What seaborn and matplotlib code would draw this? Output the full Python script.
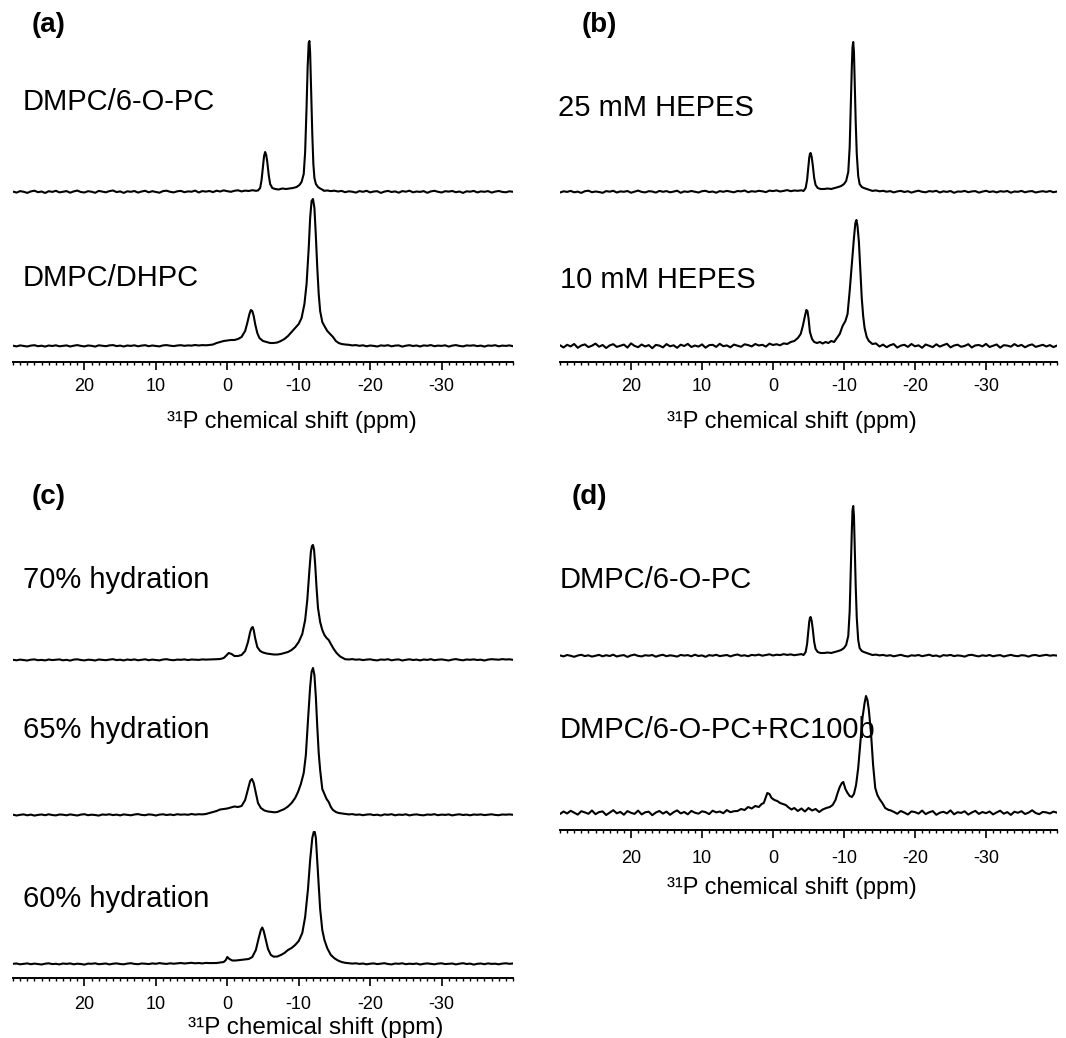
import numpy as np
import matplotlib
matplotlib.use("Agg")
import matplotlib.pyplot as plt
import seaborn as sns
from matplotlib.ticker import MultipleLocator

# ---------------------------------------------------------------------------
# 31P spectra.  Each trace: baseline samples on a 0.5 ppm grid from 30 ppm
# downfield (LEFT) and ending at -40 ppm upfield (RIGHT), plus a finely
# sampled peak region (PPM / VAL).  Intensities in arbitrary units.
# ---------------------------------------------------------------------------

# (a) DMPC/6-O-PC
A1_LEFT = [0.4, -0.6, 0.9, 0.2, -0.9, 0.6, 1.3, -0.2, 0.5, -1.0, 0.8, 0.1, 1.2, -0.4, 0.3, 0.9, -0.7, 0.6, 1.4, 0.0,
           -0.5, 0.8, 0.3, -0.8, 1.1, 0.4, -0.3, 0.9, 1.5, -0.1, 0.6, -0.9, 0.7, 0.2, 1.0, -0.6, 0.5, 1.2, -0.3, 0.8,
           0.1, -0.7, 0.9, 1.3, 0.2, -0.4, 0.7, 1.1, -0.2, 0.6, 0.3, 1.4, -0.5, 0.9, 0.4, 1.0, -0.1, 1.3, 0.5, 1.6,
           0.8, 0.2, 1.2, 1.7, 0.6, 1.4, 1.0, 1.8, 1.2, 1.5]
A1_PPM = [-4.3, -4.6, -4.8, -5.0, -5.15, -5.3, -5.45, -5.6, -5.8, -6.0, -6.3, -6.7, -7.2, -7.7, -8.2, -8.7, -9.2,
          -9.7, -10.1, -10.4, -10.7, -10.9, -11.1, -11.25, -11.4, -11.5, -11.6, -11.75, -11.9, -12.05, -12.2, -12.4,
          -12.7, -13.0, -13.4]
A1_VAL = [1.5, 4, 12, 26, 36, 40, 37, 30, 17, 8, 4, 3, 2.5, 3.5, 3, 3.5, 4, 5, 7, 10, 18, 40, 85, 125, 149, 151,
          139, 100, 58, 28, 14, 8, 5, 3.5, 2]
A1_RIGHT = [1.8, 1.2, 1.5, 0.9, 1.3, 0.5, 1.1, -0.2, 0.7, 0.3, -0.6, 0.9, 0.2, 1.2, -0.4, 0.5, 0.8, -0.9, 0.4, 1.1,
            0.0, 0.6, -0.7, 0.9, 0.3, 1.3, -0.3, 0.5, 0.1, 0.9, -0.8, 0.6, 1.2, 0.2, -0.5, 0.8, 0.4, 1.0, -0.2, 0.5,
            -0.9, 0.7, 0.3, 1.1, -0.4, 0.6, 0.2, 0.9, -0.6, 0.4, 1.0, 0.1, -0.3, 0.7, 0.2]

# (a) DMPC/DHPC
A2_LEFT = [0.3, -0.4, 0.6, 0.1, -0.5, 0.4, 0.8, -0.2, 0.3, -0.6, 0.5, 0.0, 0.7, -0.3, 0.2, 0.6, -0.5, 0.3, 0.9, 0.1,
           -0.4, 0.5, 0.2, -0.6, 0.7, 0.3, -0.2, 0.6, 0.9, -0.1, 0.4, -0.5, 0.5, 0.1, 0.7, -0.3, 0.4, 0.8, -0.2, 0.5,
           0.1, -0.4, 0.6, 0.9, 0.3, -0.1, 0.5, 0.8, 0.2, 0.6, 0.4, 1.0, 0.5, 0.9, 0.7, 1.1]
A2_PPM = [2.5, 2.0, 1.5, 1.0, 0.5, 0.0, -0.5, -1.0, -1.5, -2.0, -2.5, -2.8, -3.1, -3.3, -3.5, -3.7, -3.9, -4.2, -4.5,
          -5.0, -5.5, -6.0, -6.5, -7.0, -7.5, -8.0, -8.5, -9.0, -9.5, -10.0, -10.4, -10.8, -11.1, -11.4, -11.6, -11.8,
          -12.0, -12.2, -12.4, -12.6, -12.8, -13.0, -13.3, -13.6, -14.0, -14.4, -14.8, -15.2, -15.6, -16.0]
A2_VAL = [1, 1.5, 3, 4, 5, 5.5, 6, 6, 7, 9, 15, 23, 32, 36, 35, 30, 22, 13, 8, 5, 4, 3, 3, 3.5, 5, 7, 10, 14, 18, 22,
          28, 42, 62, 98, 128, 145, 147, 138, 110, 78, 52, 35, 24, 20, 15, 12, 9, 5, 3, 2]
A2_RIGHT = [2.0, 1.5, 1.2, 0.6, 0.9, 0.2, 0.7, -0.3, 0.5, 0.1, -0.5, 0.6, 0.2, 0.8, -0.3, 0.4, 0.6, -0.6, 0.3, 0.8,
            0.0, 0.5, -0.5, 0.6, 0.2, 0.9, -0.2, 0.4, 0.1, 0.7, -0.6, 0.4, 0.9, 0.1, -0.4, 0.6, 0.3, 0.7, -0.1, 0.4,
            -0.6, 0.5, 0.2, 0.8, -0.3, 0.4, 0.1, 0.6, -0.2]

# (b) 25 mM HEPES
B1_LEFT = [-0.5, 0.7, 0.1, 1.1, -0.3, 0.4, -0.9, 0.8, 1.3, -0.2, 0.5, 0.0, -0.8, 0.9, 0.3, 1.2, -0.5, 0.6, 0.2, 1.0,
           -0.7, 0.4, 1.4, 0.1, -0.4, 0.8, 0.5, -0.6, 1.1, 0.2, 0.9, -0.3, 0.4, 1.3, -0.8, 0.6, 0.1, 1.0, 0.3, -0.5,
           0.8, 1.2, -0.1, 0.5, -0.7, 0.9, 0.2, 1.1, 0.4, -0.3, 1.0, 0.6, 1.5, -0.2, 0.8, 0.3, 1.2, 0.7, -0.1, 1.4,
           0.9, 1.6, 0.5, 1.1, 1.9, 0.8, 1.5, 1.2, 1.7, 1.0]
B1_PPM = [-4.3, -4.6, -4.8, -5.0, -5.1, -5.2, -5.3, -5.45, -5.6, -5.8, -6.0, -6.3, -6.7, -7.2, -7.7, -8.2, -8.7, -9.2,
          -9.6, -10.0, -10.3, -10.6, -10.8, -10.95, -11.1, -11.2, -11.3, -11.4, -11.5, -11.65, -11.8, -12.0, -12.2,
          -12.5, -12.8, -13.2, -13.6]
B1_VAL = [1, 4, 12, 26, 34, 38, 39, 35, 27, 14, 7, 4, 3, 3, 3.5, 3, 4, 5, 6, 8, 11, 20, 45, 85, 125, 145, 150, 140,
          112, 70, 38, 16, 8, 5, 4, 3, 2]
B1_RIGHT = [2.0, 1.4, 1.1, 1.6, 0.7, 1.2, 0.3, 0.9, -0.4, 0.6, 1.1, 0.0, 0.8, -0.6, 0.5, 1.3, 0.2, -0.3, 0.9, 0.4,
            1.2, -0.5, 0.7, 0.1, 1.0, -0.8, 0.5, 0.3, 1.1, -0.2, 0.6, 0.9, -0.6, 0.4, 1.2, 0.0, 0.7, -0.4, 0.8, 0.3,
            1.0, -0.7, 0.5, 0.2, 1.1, -0.3, 0.6, 0.9, -0.5, 0.3, 0.8, 0.1, 1.0, -0.2, 0.5]

# (b) 10 mM HEPES
B2_LEFT = [0.8, -1.5, 1.2, -0.4, 2.0, -1.8, 0.5, 1.6, -1.1, 0.3, 2.4, -0.7, 1.0, -2.0, 0.6, 1.8, -0.9, 0.2, 1.4, -1.6,
           2.6, 0.1, -1.2, 1.5, -0.5, 0.9, -2.2, 1.1, 0.4, -1.4, 1.9, -0.3, 0.7, -1.8, 1.3, 0.0, 2.1, -1.0, 0.5, -0.6,
           1.6, -1.7, 0.8, 1.2, -0.9, 2.2, -0.2, 0.6, -1.3, 1.4, 0.3, -0.8, 1.7, 0.9, -0.4, 2.0, 0.5, 1.2, -0.6, 2.4,
           1.0, 1.8, 0.7, 2.6, 2.0]
B2_PPM = [-2.0, -2.5, -3.0, -3.5, -3.9, -4.2, -4.5, -4.7, -4.85, -5.0, -5.2, -5.5, -5.8, -6.2, -6.6, -7.0, -7.4, -7.8,
          -8.2, -8.6, -9.0, -9.4, -9.8, -10.2, -10.5, -10.8, -11.1, -11.4, -11.6, -11.75, -11.9, -12.1, -12.3, -12.5,
          -12.7, -12.9, -13.2, -13.5, -14.0]
B2_VAL = [2, 4, 5, 8, 12, 20, 30, 36, 35, 28, 14, 7, 4, 3, 4, 2.5, 4, 3, 5, 4, 8, 12, 20, 25, 32, 55, 82, 108, 123,
          126, 120, 104, 76, 48, 30, 18, 9, 5, 2]
B2_RIGHT = [2.5, 1.8, 2.6, -0.5, 1.4, -1.2, 0.8, 1.9, -1.6, 0.4, 1.2, -0.9, 2.0, -0.3, 0.7, -1.8, 1.5, 0.2, -1.1, 1.7,
            -0.6, 0.9, 2.2, -1.4, 0.5, 1.3, -0.8, 0.1, 1.8, -1.5, 0.6, 1.0, -0.4, 2.1, -1.0, 0.3, 1.5, -1.7, 0.8, 0.4,
            -0.7, 1.9, -0.2, 1.1, -1.3, 0.6, 1.6, -0.9, 0.2, 1.2, -0.5, 0.9, -1.1, 0.5]

# (c) 70% hydration
C1_LEFT = [0.2, -0.3, 0.4, 0.0, -0.5, 0.3, 0.6, -0.2, 0.1, -0.4, 0.5, -0.1, 0.3, 0.6, -0.3, 0.2, -0.6, 0.4, 0.7, 0.0,
           -0.4, 0.3, 0.1, -0.5, 0.5, 0.2, -0.2, 0.4, 0.8, -0.1, 0.3, -0.4, 0.5, 0.0, 0.6, -0.3, 0.2, 0.7, -0.2, 0.4,
           0.0, -0.4, 0.5, 0.8, 0.1, -0.2, 0.4, 0.2, 0.6, -0.1, 0.5, 0.3, 0.1, 0.6, 0.4, 0.5, 0.3]
C1_PPM = [2.0, 1.5, 1.0, 0.5, 0.2, -0.2, -0.6, -1.0, -1.5, -2.0, -2.5, -2.9, -3.2, -3.4, -3.55, -3.7, -3.9, -4.2,
          -4.6, -5.0, -5.5, -6.0, -6.5, -7.0, -7.5, -8.0, -8.5, -9.0, -9.5, -10.0, -10.5, -10.9, -11.2, -11.5, -11.7,
          -11.85, -12.0, -12.15, -12.3, -12.5, -12.7, -13.0, -13.3, -13.6, -13.9, -14.2, -14.5, -14.9, -15.3, -15.8,
          -16.3]
C1_VAL = [0.5, 0.8, 1, 2, 4, 7, 6, 4, 4, 5, 9, 18, 28, 32, 33, 30, 22, 13, 9, 7.5, 6.5, 6, 5.5, 5.5, 6, 7, 8, 10, 13,
          18, 26, 40, 60, 90, 108, 114, 115, 110, 96, 72, 52, 38, 30, 25, 22, 20, 16, 11, 7, 3.5, 1.5]
C1_RIGHT = [1.2, 0.8, 0.5, 0.9, 0.3, 0.6, -0.1, 0.4, 0.7, 0.0, -0.4, 0.5, 0.2, 0.8, -0.3, 0.3, 0.6, -0.5, 0.2, 0.7,
            0.0, 0.4, -0.4, 0.5, 0.1, 0.8, -0.2, 0.3, 0.6, 0.1, -0.5, 0.4, 0.9, 0.2, -0.3, 0.5, 0.2, 0.6, 0.0, 0.3,
            -0.5, 0.4, 0.8, 0.6, 0.3, 0.9, 0.5, 0.7, 0.2]

# (c) 65% hydration
C2_LEFT = [0.3, -0.5, 0.2, 0.6, -0.3, 0.4, -0.6, 0.1, 0.5, -0.2, 0.7, 0.0, -0.4, 0.5, 0.3, -0.3, 0.6, 0.1, -0.5, 0.4,
           0.8, -0.2, 0.3, 0.0, -0.6, 0.5, 0.2, 0.7, -0.1, 0.4, -0.4, 0.6, 0.2, -0.3, 0.5, 0.9, 0.1, -0.2, 0.6, 0.3,
           -0.5, 0.4, 0.7, 0.0, 0.5, -0.1, 0.8, 0.3, 0.6, 0.2, 1.0, 0.4, 0.8, 0.6, 0.9, 1.0]
C2_PPM = [3.0, 2.5, 2.0, 1.5, 1.0, 0.5, 0.0, -0.5, -1.0, -1.5, -2.0, -2.5, -2.9, -3.2, -3.45, -3.7, -4.0, -4.3, -4.7,
          -5.2, -5.7, -6.2, -6.6, -7.0, -7.5, -8.0, -8.5, -9.0, -9.5, -9.9, -10.3, -10.7, -11.0, -11.3, -11.6, -11.8,
          -12.0, -12.2, -12.4, -12.6, -12.8, -13.0, -13.3, -13.6, -13.9, -14.2, -14.5, -14.8, -15.2, -15.6]
C2_VAL = [1, 2, 3, 4, 5.5, 6, 6.5, 7.5, 8.5, 8, 9, 15, 26, 34, 36, 32, 22, 12, 7, 4.5, 3.5, 3, 2.7, 3, 4.5, 6, 8.5,
          12, 17, 23, 31, 42, 60, 95, 128, 143, 147, 140, 118, 88, 62, 45, 26, 21, 16, 13, 8, 5, 3, 2]
C2_RIGHT = [1.8, 1.6, 1.0, 0.6, 0.9, 0.2, 0.5, -0.2, 0.4, 0.7, -0.1, 0.3, -0.5, 0.6, 0.2, 0.8, -0.3, 0.4, 0.1, 0.7,
            -0.4, 0.3, 0.6, 0.0, -0.3, 0.5, 0.2, 0.8, -0.2, 0.4, 0.1, 0.6, -0.4, 0.3, 0.7, 0.0, 0.4, -0.3, 0.5, 0.2,
            0.6, -0.1, 0.3, 0.7, 0.1, -0.2, 0.5, 0.3, 0.6, 0.2]

# (c) 60% hydration
C3_LEFT = [0.2, 0.5, -0.3, 0.1, 0.6, -0.2, 0.4, 0.0, -0.5, 0.3, 0.7, -0.1, 0.2, -0.4, 0.5, 0.1, 0.6, -0.3, 0.3, 0.0,
           -0.6, 0.4, 0.2, 0.7, -0.2, 0.1, 0.5, -0.4, 0.3, 0.6, 0.0, -0.3, 0.4, 0.8, 0.1, -0.2, 0.5, 0.3, -0.1, 0.6,
           0.2, 0.9, 0.4, 0.1, 0.7, 0.3, 0.6, 1.0, 0.5, 0.8, 1.2, 0.7, 1.0, 0.6, 1.1, 0.9, 1.0, 1.0]
C3_PPM = [1.5, 1.0, 0.5, 0.2, 0.0, -0.3, -0.7, -1.2, -1.8, -2.4, -3.0, -3.5, -4.0, -4.4, -4.7, -4.9, -5.1, -5.4, -5.7,
          -6.1, -6.5, -7.0, -7.5, -8.0, -8.5, -9.0, -9.5, -10.0, -10.5, -10.9, -11.3, -11.6, -11.9, -12.1, -12.25,
          -12.4, -12.6, -12.8, -13.0, -13.3, -13.6, -14.0, -14.5, -15.0, -15.5, -16.0]
C3_VAL = [1, 1.5, 2, 4, 7, 5, 3.5, 3.5, 4, 4.5, 5, 7, 14, 26, 34, 36.5, 33, 24, 15, 9, 7.3, 7.5, 9, 11, 14, 16, 19,
          23, 31, 47, 75, 104, 126, 132, 132, 126, 102, 77, 55, 34, 24, 15.7, 9, 5.7, 3.5, 2]
C3_RIGHT = [1.5, 1.2, 0.8, 0.4, 0.7, 0.1, 0.5, -0.3, 0.3, 0.6, -0.1, 0.4, 0.8, 0.0, -0.4, 0.5, 0.2, 0.7, -0.2, 0.3,
            0.0, 0.5, -0.5, 0.2, 0.6, 0.1, -0.3, 0.4, 0.7, -0.1, 0.2, 0.5, -0.4, 0.3, 0.8, 0.0, 0.4, -0.6, 0.2, 0.5,
            -0.2, 0.6, 0.1, 0.3, -0.3, 0.4, 0.7, 0.2, 0.5]

# (d) DMPC/6-O-PC
D1_LEFT = [0.6, -0.4, 1.0, 0.2, -0.8, 0.5, 1.2, -0.1, 0.7, -0.6, 0.3, 1.1, -0.3, 0.8, 0.0, 1.3, -0.5, 0.4, 0.9, -0.9,
           0.6, 1.4, 0.1, -0.4, 0.8, 0.3, 1.0, -0.7, 0.5, 1.2, -0.2, 0.7, 0.2, -0.6, 1.1, 0.4, 0.9, -0.3, 1.3, 0.0,
           0.6, -0.8, 0.9, 0.3, 1.2, -0.1, 0.5, 1.0, -0.4, 0.8, 1.5, 0.2, 0.7, -0.2, 1.1, 0.6, 1.4, 0.3, 1.0, 1.7,
           0.5, 1.3, 0.9, 1.8, 1.1, 1.6, 0.8, 1.4, 1.9, 1.2]
D1_PPM = [-4.3, -4.6, -4.8, -5.0, -5.1, -5.2, -5.3, -5.45, -5.6, -5.8, -6.0, -6.3, -6.7, -7.2, -7.7, -8.2, -8.7, -9.2,
          -9.6, -10.0, -10.3, -10.6, -10.8, -10.95, -11.1, -11.2, -11.3, -11.4, -11.5, -11.65, -11.8, -12.0, -12.2,
          -12.5, -12.8, -13.2, -13.6]
D1_VAL = [1, 4, 12, 26, 34, 38, 39, 35, 27, 14, 7, 4, 3, 3, 3.5, 3, 4, 5, 6, 8, 11, 20, 45, 85, 125, 146, 150, 140,
          112, 70, 38, 16, 8, 5, 4, 3, 2]
D1_RIGHT = [1.9, 1.5, 1.0, 1.4, 0.6, 1.1, 0.2, 0.8, -0.3, 0.5, 1.2, 0.1, -0.5, 0.7, 0.3, 1.0, -0.2, 0.6, 1.3, 0.0,
            0.5, -0.7, 0.9, 0.4, 1.1, -0.1, 0.6, 0.2, -0.6, 0.8, 1.2, 0.3, -0.4, 0.7, 0.1, 1.0, -0.3, 0.5, 0.9, -0.5,
            0.4, 1.1, 0.2, -0.2, 0.8, 0.5, -0.6, 0.7, 1.0, 0.0, 0.6, 1.2, 0.3, 0.8, 0.4]

# (d) DMPC/6-O-PC+RC100b
D2_LEFT = [-1.0, 1.5, -0.5, 2.2, 0.3, -1.6, 1.8, 0.6, -0.8, 2.5, -1.2, 0.9, 1.6, -2.0, 0.4, 2.8, -0.3, 1.1, -1.7, 1.9,
           0.2, -0.9, 2.4, -1.4, 0.7, 1.3, -2.2, 0.5, 2.0, -0.6, 1.4, -1.8, 0.8, 2.6, -0.4, 1.0, -1.3, 2.1, 0.3, -0.7,
           1.7, 0.9, -1.1, 2.3, 0.6, 1.5, -0.2, 2.9, 0.8, 1.8, 2.4]
D2_PPM = [5.0, 4.5, 4.0, 3.5, 3.0, 2.5, 2.0, 1.6, 1.3, 1.0, 0.8, 0.5, 0.2, -0.2, -0.6, -1.0, -1.4, -1.8, -2.2, -2.6,
          -3.0, -3.5, -4.0, -4.5, -5.0, -5.5, -6.0, -6.5, -7.0, -7.5, -8.0, -8.4, -8.8, -9.1, -9.4, -9.7, -9.9, -10.2,
          -10.5, -10.8, -11.1, -11.4, -11.7, -12.0, -12.3, -12.6, -12.9, -13.1, -13.3, -13.5, -13.8, -14.1, -14.4,
          -14.7, -15.0, -15.4, -15.8, -16.3]
D2_VAL = [2, 4, 3, 6, 4.5, 7, 6, 9, 10, 16, 20, 19, 15, 13, 12, 10, 9, 8, 5.5, 3.5, 5, 2, 4.5, 1.5, 5, 2.5, 4, 1, 3.5,
          5, 6, 8, 13, 20, 26, 30, 31, 24, 20, 17, 16, 19, 28, 45, 70, 95, 110, 117, 113, 103, 80, 48, 25, 18, 14, 10,
          5, 3]
D2_RIGHT = [2.5, 2.8, 1.2, -0.8, 2.0, 0.4, -1.5, 1.6, 0.9, -0.6, 2.4, -1.1, 0.7, 1.9, -1.8, 0.3, 1.2, -0.4, 2.6, -1.3,
            0.8, 0.1, 1.7, -1.6, 0.5, 2.1, -0.9, 1.0, -0.2, 1.5, -1.4, 0.6, 2.3, -0.7, 0.9, -1.9, 1.3, 0.2, 1.8, -1.0,
            0.4, 2.7, 0.0, -1.2, 1.1, 0.6, -0.5, 1.4, 0.3]

TICK_VALUES = [20, 10, 0, -10, -20, -30]
X_LABEL = "\u00b3\u00b9P chemical shift (ppm)"

# ---------------------------------------------------------------------------
sns.set_style("white")
plt.rcParams["font.family"] = ["Liberation Sans", "DejaVu Sans"]
plt.rcParams["axes.unicode_minus"] = False
plt.rcParams["text.color"] = "black"
plt.rcParams["xtick.color"] = "black"
plt.rcParams["axes.edgecolor"] = "black"

W, H = 1066, 1038
fig = plt.figure(figsize=(W / 100, H / 100), dpi=100)
fig.patch.set_facecolor("white")


def build(left, ppm, val, right):
    lp = 30 - 0.5 * np.arange(len(left))
    rp = -40 + 0.5 * np.arange(len(right))[::-1]
    pk = np.asarray(ppm, dtype=float)
    lm = lp > pk.max()
    rm = rp < pk.min()
    x = np.concatenate([lp[lm], pk, rp[rm]])
    y = np.concatenate([np.asarray(left, float)[lm], np.asarray(val, float), np.asarray(right, float)[rm]])
    return x, y


def px_axes(x0, x1, ytop, yaxis, tick_size, pad):
    ax = fig.add_axes([x0 / W, 1 - yaxis / H, (x1 - x0) / W, (yaxis - ytop) / H])
    ax.set_xlim(30, -40)
    ax.set_ylim(0, yaxis - ytop)
    ax.patch.set_alpha(0)
    for s in ("top", "left", "right"):
        ax.spines[s].set_visible(False)
    ax.spines["bottom"].set_linewidth(1.4)
    ax.set_yticks([])
    ax.set_xticks(TICK_VALUES)
    ax.xaxis.set_minor_locator(MultipleLocator(1))
    ax.tick_params(axis="x", which="major", bottom=True, direction="out", length=5.8, width=1.2,
                   labelsize=tick_size, pad=pad)
    ax.tick_params(axis="x", which="minor", bottom=True, direction="out", length=2.4, width=1.0)
    return ax


def trace(ax, data, base):
    x, y = build(*data)
    sns.lineplot(x=x, y=y + base, ax=ax, color="black", linewidth=1.5, sort=False, estimator=None)


def ftext(x, y, s, **kw):
    fig.text(x / W, 1 - y / H, s, **kw)


LABEL_KW = dict(fontsize=21, ha="left", va="baseline")
PANEL_KW = dict(fontsize=20, fontweight="bold", ha="left", va="center")

# (a)
ax_a = px_axes(13, 513, 10, 362, 13, 6.0)
trace(ax_a, (A1_LEFT, A1_PPM, A1_VAL, A1_RIGHT), 170)
trace(ax_a, (A2_LEFT, A2_PPM, A2_VAL, A2_RIGHT), 16)
ftext(23, 110, "DMPC/6-O-PC", **LABEL_KW)
ftext(23, 286, "DMPC/DHPC", **LABEL_KW)
ftext(32, 25, "(a)", **PANEL_KW)
ftext(292, 428, X_LABEL, fontsize=17, ha="center", va="baseline")

# (b)
ax_b = px_axes(560, 1057, 10, 362, 13, 5.8)
trace(ax_b, (B1_LEFT, B1_PPM, B1_VAL, B1_RIGHT), 170)
trace(ax_b, (B2_LEFT, B2_PPM, B2_VAL, B2_RIGHT), 16)
ftext(558, 116, "25 mM HEPES", **LABEL_KW)
ftext(560, 288, "10 mM HEPES", **LABEL_KW)
ftext(582, 25, "(b)", **PANEL_KW)
ftext(792, 428, X_LABEL, fontsize=17, ha="center", va="baseline")

# (c)
ax_c = px_axes(13, 513, 480, 978, 13, 7.5)
trace(ax_c, (C1_LEFT, C1_PPM, C1_VAL, C1_RIGHT), 318)
trace(ax_c, (C2_LEFT, C2_PPM, C2_VAL, C2_RIGHT), 163)
trace(ax_c, (C3_LEFT, C3_PPM, C3_VAL, C3_RIGHT), 14)
ftext(23, 588, "70% hydration", **LABEL_KW)
ftext(23, 738, "65% hydration", **LABEL_KW)
ftext(23, 907, "60% hydration", **LABEL_KW)
ftext(32, 497, "(c)", **PANEL_KW)
ftext(316, 1034, X_LABEL, fontsize=17.5, ha="center", va="baseline")

# (d)
ax_d = px_axes(560, 1057, 480, 830, 13, 8.5)
trace(ax_d, (D1_LEFT, D1_PPM, D1_VAL, D1_RIGHT), 174)
trace(ax_d, (D2_LEFT, D2_PPM, D2_VAL, D2_RIGHT), 17)
ftext(560, 588, "DMPC/6-O-PC", **LABEL_KW)
ftext(560, 738, "DMPC/6-O-PC+RC100b", **LABEL_KW)
ftext(572, 497, "(d)", **PANEL_KW)
ftext(792, 894, X_LABEL, fontsize=17, ha="center", va="baseline")

fig.savefig("out.png", dpi=100, facecolor="white")
